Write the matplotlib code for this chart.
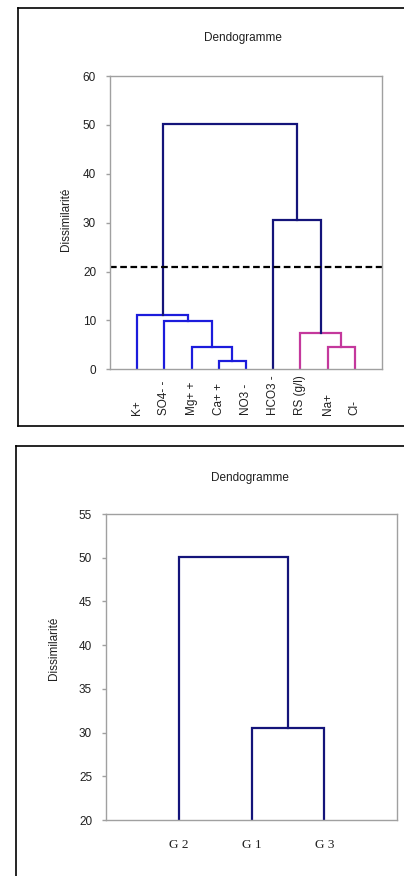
import matplotlib
matplotlib.use("Agg")
import matplotlib.pyplot as plt
from matplotlib.lines import Line2D

plt.rcParams['font.family'] = ['Liberation Sans', 'DejaVu Sans']

# top dendrogram: leaves and merges (left node, right node, height, colour key)
leaves_top = ['K+', 'SO4- -', 'Mg+ +', 'Ca+ +', 'NO3 -', 'HCO3 -', 'RS (g/l)', 'Na+', 'Cl-']
merge_left_top = [3, 2, 1, 0, 7, 6, 5, 12]
merge_right_top = [4, 9, 10, 11, 8, 13, 14, 15]
merge_height_top = [1.7, 4.6, 9.85, 11.15, 4.6, 7.35, 30.5, 50.1]
merge_group_top = ['blue', 'blue', 'blue', 'blue', 'pink', 'pink', 'navy', 'navy']
cut_level = 21

# bottom dendrogram: the three groups
leaves_bot = ['G 2', 'G 1', 'G 3']
merge_left_bot = [1, 0]
merge_right_bot = [2, 3]
merge_height_bot = [30.5, 50.1]
merge_group_bot = ['navy', 'navy']

colours = {'blue': '#1c1cdc', 'pink': '#c4389c', 'navy': '#14147a'}
spine_col = '#a0a0a0'
txt_col = '#202020'


# draw U-shaped links, leaves sit at x = 1..n and height 0
def draw_dendro(ax, n, lefts, rights, heights, groups):
    xs = [i + 1 for i in range(n)]
    hs = [0.0] * n
    for l, r, h, g in zip(lefts, rights, heights, groups):
        ax.plot([xs[l], xs[l], xs[r], xs[r]], [hs[l], h, h, hs[r]],
                color=colours[g], lw=1.6, solid_joinstyle='miter')
        xs.append((xs[l] + xs[r]) / 2.0)
        hs.append(h)


def style_axes(ax):
    for s in ax.spines.values():
        s.set_color(spine_col)
        s.set_linewidth(1.0)
    ax.tick_params(axis='y', direction='out', length=3, width=1.0, color=spine_col,
                   pad=7, labelsize=8.5, labelcolor=txt_col)
    ax.tick_params(axis='x', length=0)


fig = plt.figure(figsize=(4.04, 8.76), dpi=100)

# outer frames
fig.add_artist(Line2D([0.0446, 0.0446], [0.5137, 0.9909], color='black', lw=1.2))
fig.add_artist(Line2D([0.0446, 1.0], [0.9909, 0.9909], color='black', lw=1.2))
fig.add_artist(Line2D([0.0446, 1.0], [0.5137, 0.5137], color='black', lw=1.2))
fig.add_artist(Line2D([0.0396, 0.0396], [0.0, 0.4909], color='black', lw=1.2))
fig.add_artist(Line2D([0.0396, 1.0], [0.4909, 0.4909], color='black', lw=1.2))

# ---- top chart
ax1 = fig.add_axes([0.2723, 0.5784, 0.6733, 0.3348])
draw_dendro(ax1, len(leaves_top), merge_left_top, merge_right_top, merge_height_top, merge_group_top)
ax1.axhline(cut_level, color='black', lw=1.6, dashes=(3, 1.6), clip_on=False)
ax1.set_xlim(0, 10)
ax1.set_ylim(0, 60)
ax1.set_yticks(range(0, 61, 10))
ax1.set_xticks([i + 1 for i in range(len(leaves_top))])
ax1.set_xticklabels([])
for i, name in enumerate(leaves_top):
    ax1.text(i + 1, -0.156, name, rotation=90, ha='center', va='bottom', fontsize=8.5,
             color=txt_col, transform=ax1.get_xaxis_transform())
style_axes(ax1)
ax1.set_ylabel('Dissimilarité', fontsize=8.5, color=txt_col)
ax1.yaxis.set_label_coords(-0.138, 0.51)
fig.text(0.601, 0.9566, 'Dendogramme', ha='center', va='center', fontsize=8.5, color=txt_col)

# ---- bottom chart
ax2 = fig.add_axes([0.2624, 0.0639, 0.7203, 0.3493])
draw_dendro(ax2, len(leaves_bot), merge_left_bot, merge_right_bot, merge_height_bot, merge_group_bot)
ax2.set_xlim(0, 4)
ax2.set_ylim(20, 55)
ax2.set_yticks(range(20, 56, 5))
ax2.set_xticks([i + 1 for i in range(len(leaves_bot))])
ax2.set_xticklabels(leaves_bot, fontfamily='Liberation Serif', fontsize=9.5, color=txt_col)
style_axes(ax2)
ax2.tick_params(axis='x', pad=14)
ax2.set_ylabel('Dissimilarité', fontsize=8.5, color=txt_col)
ax2.yaxis.set_label_coords(-0.158, 0.56)
fig.text(0.619, 0.4543, 'Dendogramme', ha='center', va='center', fontsize=8.5, color=txt_col)

fig.savefig('out.png', dpi=100)
